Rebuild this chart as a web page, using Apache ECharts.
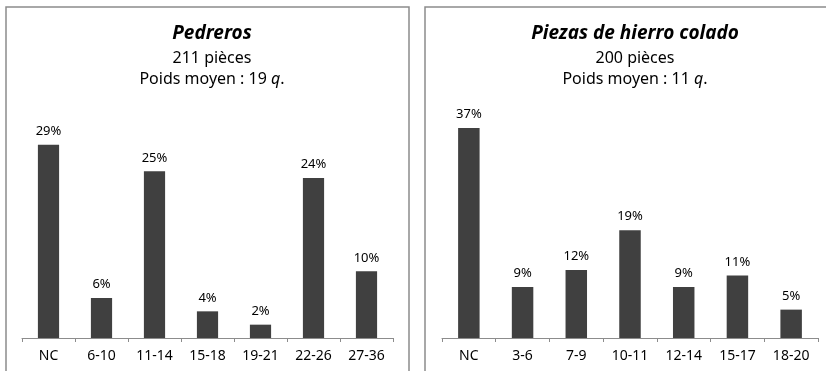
<!DOCTYPE html>
<html>
<head>
<meta charset="utf-8">
<script src="https://cdn.jsdelivr.net/npm/echarts@6/dist/echarts.min.js"></script>
<style>
  html, body { margin: 0; padding: 0; background: #fff; }
  #chart { width: 826px; height: 371px; }
</style>
</head>
<body>
<div id="chart"></div>
<script>
// Pedreros
const pedrerosCats = ['NC', '6-10', '11-14', '15-18', '19-21', '22-26', '27-36'];
const pedrerosVals = [29, 6, 25, 4, 2, 24, 10];
// Piezas de hierro colado
const hierroCats = ['NC', '3-6', '7-9', '10-11', '12-14', '15-17', '18-20'];
const hierroVals = [37, 9, 12, 19, 9, 11, 5];

const font = 'Noto Sans';
const barColor = '#404040';

let myChart = echarts.init(document.getElementById('chart'));

function xAxisOf(idx, cats) {
  return {
    type: 'category',
    gridIndex: idx,
    data: cats,
    axisLine: { lineStyle: { color: '#8c8c8c', width: 1 } },
    axisTick: { show: true, length: 4, inside: false, lineStyle: { color: '#8c8c8c' } },
    axisLabel: { color: '#000', fontFamily: font, fontSize: 14, margin: 11, interval: 0 }
  };
}
function yAxisOf(idx, max) {
  return {
    type: 'value', gridIndex: idx, min: 0, max: max,
    show: false, splitLine: { show: false }
  };
}
function seriesOf(idx, vals) {
  return {
    type: 'bar', xAxisIndex: idx, yAxisIndex: idx,
    data: vals, barWidth: '40%',
    itemStyle: { color: barColor },
    label: {
      show: true, position: 'top', distance: 7,
      formatter: '{c}%', color: '#000', fontFamily: font, fontSize: 13
    }
  };
}

function titleOf(x, name, sub) {
  return {
    text: name, subtext: sub,
    left: x, top: 19, textAlign: 'center', itemGap: 5,
    textStyle: { fontFamily: font, fontSize: 19, fontWeight: 'bold', fontStyle: 'italic', color: '#000' },
    subtextStyle: { fontFamily: font, fontSize: 16, color: '#000', lineHeight: 21,
      rich: { i: { fontStyle: 'italic', fontFamily: font, fontSize: 16, color: '#000' } } }
  };
}

let option = {
  animation: false,
  textStyle: { fontFamily: font },
  title: [
    titleOf(207, 'Pedreros', '211 pièces\nPoids moyen : 19 {i|q}.'),
    titleOf(630, 'Piezas de hierro colado', '200 pièces\nPoids moyen : 11 {i|q}.')
  ],
  graphic: [
    { type: 'rect', shape: { x: 6, y: 7, width: 403, height: 380 },
      style: { fill: 'none', stroke: '#8c8c8c', lineWidth: 1.5 } },
    { type: 'rect', shape: { x: 425, y: 7, width: 420, height: 380 },
      style: { fill: 'none', stroke: '#8c8c8c', lineWidth: 1.5 } }
  ],
  grid: [
    { left: 22, right: 433, top: 138, bottom: 33 },
    { left: 442, right: 8, top: 111, bottom: 33 }
  ],
  xAxis: [xAxisOf(0, pedrerosCats), xAxisOf(1, hierroCats)],
  yAxis: [yAxisOf(0, 30), yAxisOf(1, 40)],
  series: [seriesOf(0, pedrerosVals), seriesOf(1, hierroVals)]
};
myChart.setOption(option);
</script>
</body>
</html>
